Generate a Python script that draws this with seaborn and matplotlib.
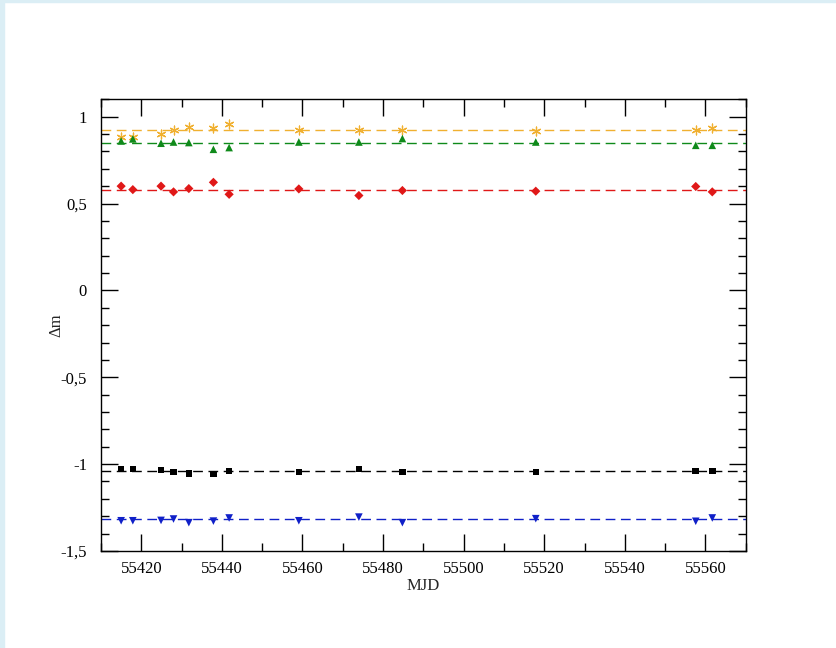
import numpy as np
import pandas as pd
import seaborn as sns
import matplotlib.pyplot as plt
from matplotlib.patches import Rectangle
from matplotlib.ticker import MultipleLocator, FuncFormatter

# epochs (MJD)
mjd = [55415.0, 55417.9, 55424.9, 55428.0, 55431.8, 55437.9, 55441.8,
       55459.1, 55474.0, 55484.8, 55517.9, 55557.6, 55561.7]

# delta magnitudes per comparison star
dm_yellow = [0.881, 0.885, 0.902, 0.925, 0.943, 0.937, 0.958,
             0.921, 0.921, 0.921, 0.920, 0.925, 0.935]
dm_green = [0.860, 0.872, 0.847, 0.854, 0.851, 0.812, 0.822,
            0.854, 0.854, 0.874, 0.854, 0.835, 0.835]
dm_red = [0.600, 0.580, 0.600, 0.567, 0.586, 0.622, 0.553,
          0.584, 0.546, 0.575, 0.571, 0.598, 0.567]
dm_black = [-1.027, -1.027, -1.034, -1.046, -1.055, -1.057, -1.040,
            -1.046, -1.027, -1.044, -1.044, -1.040, -1.040]
dm_blue = [-1.326, -1.326, -1.324, -1.316, -1.337, -1.328, -1.310,
           -1.326, -1.305, -1.337, -1.314, -1.329, -1.310]

# mean levels (dashed lines)
mean_levels = [0.924, 0.847, 0.580, -1.038, -1.318]

series_names = ["yellow", "green", "red", "black", "blue"]
series_values = [dm_yellow, dm_green, dm_red, dm_black, dm_blue]
colors = ["#f0b030", "#0f8a1a", "#e01818", "#000000", "#1020c8"]
markers = [(6, 2, 0), "^", "D", "s", "v"]
sizes = [40, 30, 22, 22, 30]

sns.set_style("ticks")
plt.rcParams['font.family'] = ['Liberation Serif', 'DejaVu Serif']

fig = plt.figure(figsize=(8.36, 6.48), dpi=100)
ax = fig.add_axes([0.1208, 0.1497, 0.892 - 0.1208, 0.8468 - 0.1497])

# light blue frame on the left and top edge
fig.patches.append(Rectangle((0, 0), 3.5 / 836, 1, transform=fig.transFigure,
                             color="#dbeef5", zorder=0))
fig.patches.append(Rectangle((0, 1 - 2.0 / 648), 1, 2.0 / 648, transform=fig.transFigure,
                             color="#dbeef5", zorder=0))

for name, vals, col, mk, sz, lvl in zip(series_names, series_values, colors,
                                        markers, sizes, mean_levels):
    df = pd.DataFrame({"MJD": mjd, "dm": vals})
    ax.axhline(lvl, color=col, lw=1.0, ls=(0, (7, 4)), zorder=1)
    kw = dict(edgecolor="none") if mk != (6, 2, 0) else dict(linewidth=0.9)
    sns.scatterplot(data=df, x="MJD", y="dm", ax=ax, color=col, marker=mk,
                    s=sz, zorder=3, legend=False, **kw)

ax.set_xlim(55410, 55570)
ax.set_ylim(-1.5, 1.1)
ax.xaxis.set_major_locator(MultipleLocator(20))
ax.xaxis.set_minor_locator(MultipleLocator(10))
ax.yaxis.set_major_locator(MultipleLocator(0.5))
ax.yaxis.set_minor_locator(MultipleLocator(0.1))
ax.yaxis.set_major_formatter(FuncFormatter(lambda v, p: f"{v:g}".replace(".", ",")))
ax.xaxis.set_major_formatter(FuncFormatter(lambda v, p: f"{v:.0f}"))

ax.tick_params(which="both", direction="in", top=True, right=True,
               labelsize=12, colors="black", width=1.0)
ax.tick_params(which="major", length=12)
ax.tick_params(axis="y", which="major", pad=10)
ax.tick_params(axis="x", which="major", pad=7)
ax.tick_params(which="minor", length=6)
for sp in ax.spines.values():
    sp.set_linewidth(1.0)
    sp.set_color("black")

ax.set_xlabel("MJD", fontsize=12, labelpad=1)
ax.set_ylabel("Δm", fontsize=12)
ax.yaxis.set_label_coords(-0.057, 0.5)

fig.savefig("out.png", dpi=100)
